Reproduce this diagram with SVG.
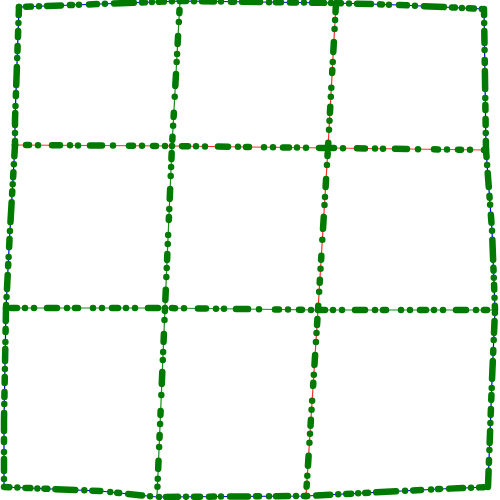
<svg xmlns="http://www.w3.org/2000/svg" width="500" height="500" viewBox="0 0 500 500">
<style>
.e{fill:none;stroke-width:1.2}
.b{stroke:#0000ff}
.r{stroke:#ff3030}
.g{stroke:#1a8c1a}
.n{fill:none;stroke:#007a00;stroke-width:6.5;stroke-linecap:round;stroke-linejoin:round}
.d1{stroke-dasharray:0 7 5 8 0 8 14 9 2 7 0 10 8 8 0 9 20 8 3 7}
.d2{stroke-dasharray:6 8 0 8 12 7 0 10 3 8 18 9 0 7 5 9}
.d3{stroke-dasharray:0 11 3 9 0 14 8 10 0 8 0 12 12 11 0 16 4 9}
.d4{stroke-dasharray:0 10 6 8 0 9 0 13 10 10 0 8 3 15 0 9}
</style>
<rect width="500" height="500" fill="#ffffff"/>
<g id="connectors">
<polyline class="e b" points="19,7 100,4 180,1 336,3 400,5 484,9"/>
<polyline class="e b" points="484,9 486,150 492,230 495,310 492,380 488,487"/>
<polyline class="e b" points="488,487 440,489 306,496 157,497 100,491 4,487"/>
<polyline class="e b" points="4,487 4,420 6,308 10,230 15,145 15,120 19,7"/>
<polyline class="e r" points="15,145 172,146 328,148 486,150"/>
<polyline class="e g" points="6,308 165,308 318,310 495,310"/>
<polyline class="e g" points="180,1 172,146 165,308 157,497"/>
<polyline class="e r" points="336,3 328,148 318,310 306,496"/>
</g>
<g id="nodes">
<polyline class="n d1" points="19,7 100,4 180,1"/>
<polyline class="n d2" points="180,1 336,3"/>
<polyline class="n d1" style="stroke-dashoffset:7" points="336,3 400,5 484,9"/>
<polyline class="n d2" points="484,9 486,150"/>
<polyline class="n d1" style="stroke-dashoffset:5" points="486,150 492,230 495,310"/>
<polyline class="n d2" style="stroke-dashoffset:11" points="495,310 492,380 488,487"/>
<polyline class="n d1" style="stroke-dashoffset:3" points="488,487 440,489 306,496"/>
<polyline class="n d2" style="stroke-dashoffset:4" points="306,496 157,497"/>
<polyline class="n d1" style="stroke-dashoffset:13" points="157,497 100,491 4,487"/>
<polyline class="n d2" style="stroke-dashoffset:6" points="4,487 4,420 6,308"/>
<polyline class="n d1" style="stroke-dashoffset:9" points="6,308 10,230 15,145"/>
<polyline class="n d2" style="stroke-dashoffset:2" points="15,145 15,120 19,7"/>
<polyline class="n d3" points="15,145 172,146"/>
<polyline class="n d4" points="172,146 328,148"/>
<polyline class="n d3" style="stroke-dashoffset:8" points="328,148 486,150"/>
<polyline class="n d4" style="stroke-dashoffset:5" points="6,308 165,308"/>
<polyline class="n d3" style="stroke-dashoffset:4" points="165,308 318,310"/>
<polyline class="n d4" style="stroke-dashoffset:9" points="318,310 495,310"/>
<polyline class="n d3" style="stroke-dashoffset:2" points="180,1 172,146"/>
<polyline class="n d4" style="stroke-dashoffset:3" points="172,146 165,308"/>
<polyline class="n d3" style="stroke-dashoffset:11" points="165,308 157,497"/>
<polyline class="n d4" style="stroke-dashoffset:7" points="336,3 328,148"/>
<polyline class="n d3" style="stroke-dashoffset:6" points="328,148 318,310"/>
<polyline class="n d4" style="stroke-dashoffset:1" points="318,310 306,496"/>
</g>
</svg>
